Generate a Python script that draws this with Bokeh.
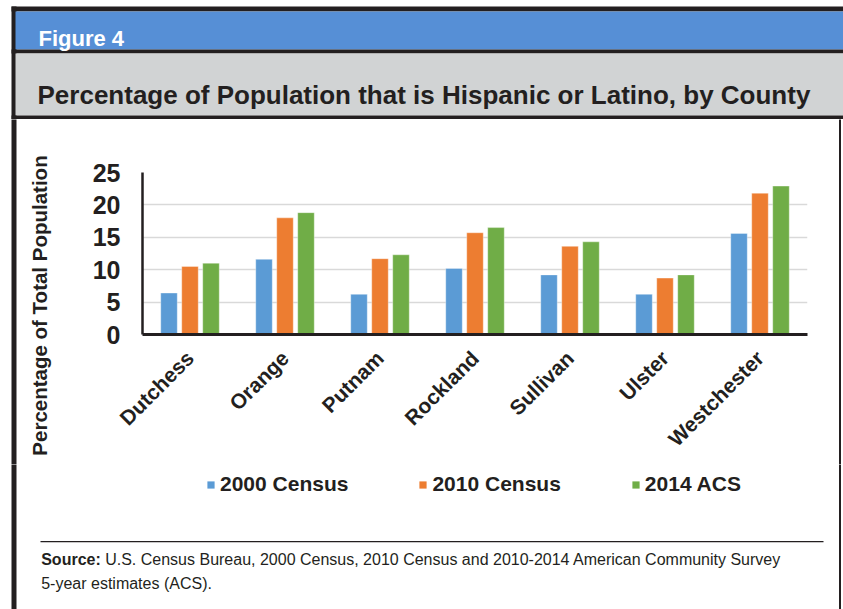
from math import pi
from bokeh.plotting import figure
from bokeh.layouts import column, row
from bokeh.models import (ColumnDataSource, FactorRange, Range1d, Legend, LegendItem,
                          FixedTicker)
from bokeh.transform import dodge
from bokeh.core.properties import value
from bokeh.embed import file_html
from bokeh.resources import INLINE

# ---------------- data ----------------
counties = ["Dutchess", "Orange", "Putnam", "Rockland", "Sullivan", "Ulster", "Westchester"]
census_2000 = [6.4, 11.6, 6.2, 10.2, 9.2, 6.2, 15.6]
census_2010 = [10.5, 18.0, 11.7, 15.7, 13.6, 8.7, 21.8]
acs_2014 = [11.0, 18.8, 12.3, 16.5, 14.3, 9.2, 22.9]
series_labels = ["2000 Census", "2010 Census", "2014 ACS"]
y_ticks = [0, 5, 10, 15, 20, 25]

figure_label = "Figure 4"
chart_title = "Percentage of Population that is Hispanic or Latino, by County"
y_title = "Percentage of Total Population"
source_bold = "Source:"
source_line1 = "U.S. Census Bureau, 2000 Census, 2010 Census and 2010-2014 American Community Survey"
source_line2 = "5-year estimates (ACS)."

# ---------------- style ----------------
DARK = "#231F20"
BLUE_HDR = "#568FD6"
GRAY_HDR = "#D1D3D4"
COLORS = ["#5B9BD5", "#ED7D31", "#70AD47"]
SANS = "Liberation Sans"

TOTAL_W = 843
HDR_H = 119
MID_H = 345
FTR_H = 609 - HDR_H - MID_H
LEFT_W = 60
RIGHT_W = 8
CHART_W = TOTAL_W - LEFT_W - RIGHT_W
EXT = 6  # overdraw past panel edges to avoid seams


def deco_fig(w, h, x0, y0):
    """A decoration panel whose data units are page pixels (y grows downward)."""
    f = figure(width=w, height=h, x_range=Range1d(x0, x0 + w), y_range=Range1d(y0 + h, y0),
               output_backend="svg", toolbar_location=None,
               x_axis_location=None, y_axis_location=None,
               min_border=0, min_border_left=0, min_border_right=0,
               min_border_top=0, min_border_bottom=0, frame_align=False)
    f.grid.visible = False
    f.outline_line_color = None
    f.background_fill_color = "white"
    f.border_fill_color = "white"
    return f


def rect(f, l, t, r, b, color):
    f.quad(left=[l], right=[r], top=[t], bottom=[b], fill_color=color, line_color=None)


def txt(f, x, y, s, size, font=SANS, style="normal", color=DARK, angle=0,
        align="left", baseline="alphabetic"):
    f.text(x=[x], y=[y], text=[s], text_font=value(font), text_font_style=style,
           text_font_size=size, text_color=color, angle=angle, text_align=align,
           text_baseline=baseline)


# ---------------- header ----------------
hdr = deco_fig(TOTAL_W, HDR_H, 0, 0)
rect(hdr, 11, 6, 843 + EXT, 11, DARK)
rect(hdr, 11, 6, 16, HDR_H + EXT, DARK)
rect(hdr, 15, 11, 843 + EXT, 49, BLUE_HDR)
rect(hdr, 11, 49, 843 + EXT, 53, DARK)
rect(hdr, 15, 53, 843 + EXT, 115, GRAY_HDR)
rect(hdr, 11, 115, 843 + EXT, 119 + EXT, DARK)
txt(hdr, 38, 38, figure_label, "22px", style="bold", color="white")
txt(hdr, 37, 94, chart_title, "26px", style="bold")

# ---------------- left strip (border + y title) ----------------
lft = deco_fig(LEFT_W, MID_H, 0, HDR_H)
rect(lft, 11, HDR_H - EXT, 16, HDR_H + MID_H + EXT, DARK)
txt(lft, 38.5, 305, y_title, "20.5px", style="bold", angle=pi / 2, align="center",
    baseline="middle")

# ---------------- right strip ----------------
rgt = deco_fig(RIGHT_W, MID_H, TOTAL_W - RIGHT_W, HDR_H)
rect(rgt, 838.5, HDR_H - EXT, 840.5, HDR_H + MID_H + EXT, DARK)

# ---------------- chart ----------------
src = ColumnDataSource(dict(county=counties, y2000=census_2000,
                            y2010=census_2010, y2014=acs_2014))

p = figure(width=CHART_W, height=MID_H, x_range=FactorRange(*counties, range_padding=0),
           y_range=Range1d(0, 25), output_backend="svg", toolbar_location=None,
           min_border_left=142 - LEFT_W, min_border_right=(TOTAL_W - RIGHT_W) - 807,
           min_border_top=172 - HDR_H, min_border_bottom=(HDR_H + MID_H) - 334,
           frame_align=False)
p.background_fill_color = "white"
p.border_fill_color = "white"
p.outline_line_color = None

bw = 0.174
off = 0.221
bars = []
for col, dx, c in zip(["y2000", "y2010", "y2014"], [-off, 0.0, off], COLORS):
    bars.append(p.vbar(x=dodge("county", dx, range=p.x_range), top=col, width=bw,
                       source=src, fill_color=c, line_color="white", line_alpha=0.35,
                       line_width=1))

p.yaxis.ticker = FixedTicker(ticks=y_ticks)
p.yaxis.major_label_text_font = SANS
p.yaxis.major_label_text_font_style = "bold"
p.yaxis.major_label_text_font_size = "25px"
p.yaxis.major_label_text_color = DARK
p.yaxis.major_label_standoff = 22
p.yaxis.major_tick_out = 0
p.yaxis.major_tick_in = 0
p.yaxis.minor_tick_out = 0
p.yaxis.minor_tick_in = 0
p.yaxis.axis_line_color = DARK
p.yaxis.axis_line_width = 2.5

p.xaxis.major_label_orientation = pi / 4
p.xaxis.major_label_text_font = SANS
p.xaxis.major_label_text_font_style = "bold"
p.xaxis.major_label_text_font_size = "21px"
p.xaxis.major_label_text_color = DARK
p.xaxis.major_label_standoff = 20
p.xaxis.major_tick_out = 0
p.xaxis.major_tick_in = 0
p.xaxis.axis_line_color = DARK
p.xaxis.axis_line_width = 3

p.xgrid.grid_line_color = None
p.ygrid.grid_line_color = "#D9D9D9"
p.ygrid.grid_line_width = 1.5

# ---------------- footer (legend + source) ----------------
FY = HDR_H + MID_H
ftr = deco_fig(TOTAL_W, FTR_H, 0, FY)
rect(ftr, 11, FY - EXT, 16, FY + FTR_H + EXT, DARK)
rect(ftr, 838.5, FY - EXT, 840.5, FY + FTR_H + EXT, DARK)
rect(ftr, 40, 540.5, 823, 541.7, DARK)
txt(ftr, 40.7, 559, source_bold, "16px", style="bold")
txt(ftr, 104.7, 559, source_line1, "16px")
txt(ftr, 40.7, 583, source_line2, "16px")

# legend swatches share the chart's bar colours (drawn off-panel, only shown in the legend)
swatches = [ftr.quad(left=[-30], right=[-20], top=[FY - 30], bottom=[FY - 20],
                     fill_color=c, line_color=None) for c in COLORS]
legend = Legend(items=[LegendItem(label=lab, renderers=[r])
                       for lab, r in zip(series_labels, swatches)],
                orientation="horizontal", location=(206, FTR_H - (484 - FY) - 12),
                glyph_width=9, glyph_height=9, label_standoff=5, spacing=70,
                padding=0, margin=0, border_line_alpha=0, background_fill_alpha=0,
                label_text_font=SANS, label_text_font_style="bold",
                label_text_font_size="21px", label_text_color=DARK, label_height=24)
ftr.add_layout(legend, "center")

layout = column(hdr, row(lft, p, rgt, spacing=0), ftr, spacing=0)
open("out.html", "w").write(file_html(layout, INLINE))
